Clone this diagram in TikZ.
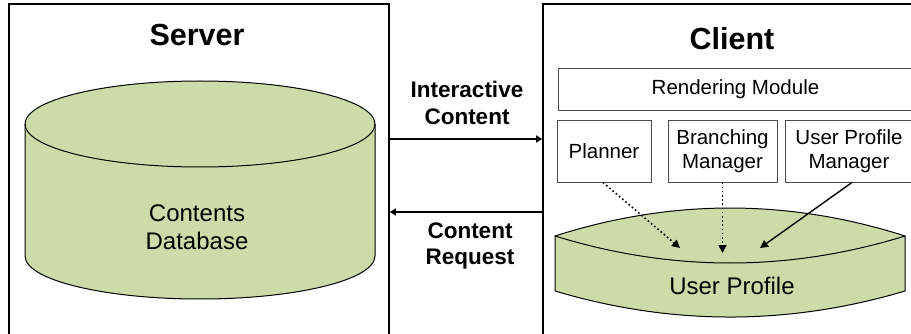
\documentclass[tikz,border=0pt]{standalone}
\usepackage{fontspec}
\setmainfont{Liberation Sans}
\usetikzlibrary{arrows.meta}
\definecolor{dbgreen}{RGB}{205,219,169}
\begin{document}
\begin{tikzpicture}[x=1pt,y=-1pt,
  panel/.style={draw=black,line width=1.6pt},
  titletext/.style={font=\fontsize{30.5}{34}\selectfont\bfseries},
  module/.style={draw=black!70,line width=0.9pt,fill=white,inner sep=0pt,align=center,
    font=\fontsize{20.5}{24}\selectfont},
  flowlbl/.style={align=center,font=\fontsize{22.5}{26.5}\selectfont\bfseries},
  dblbl/.style={align=center,font=\fontsize{24}{28}\selectfont},
  dbshape/.style={fill=dbgreen,draw=black,line width=1pt},
  flow/.style={line width=1.4pt,-{Triangle[length=6pt,width=7pt]}},
  usesdot/.style={line width=1.6pt,dash pattern=on 1.6pt off 2.6pt,-{Triangle[length=8pt,width=8pt]}},
  usessolid/.style={line width=1.4pt,-{Triangle[length=8pt,width=8pt]}}
]
\useasboundingbox (0,0) rectangle (911,334);
\clip (0,0) rectangle (911,334);

% panels
\node[panel,inner sep=0pt,minimum width=380pt,minimum height=346pt] (server) at (199,177) {};
\node[panel,inner sep=0pt,minimum width=387pt,minimum height=346pt] (client) at (736.5,177) {};
\node[titletext] (servertitle) at (197,34.7) {Server};
\node[titletext] (clienttitle) at (732,39) {Client};

% server database cylinder
\path[dbshape] (25,124) -- (25,256)
  .. controls (25,279.75) and (103.3,299) .. (200,299)
  .. controls (296.7,299) and (375,279.75) .. (375,256)
  -- (375,124)
  .. controls (375,100.25) and (296.7,81) .. (200,81)
  .. controls (103.3,81) and (25,100.25) .. (25,124) -- cycle;
\draw[line width=1pt] (25,124)
  .. controls (25,147.75) and (103.3,167) .. (200,167)
  .. controls (296.7,167) and (375,147.75) .. (375,124);
\node[dblbl] (contentsdb) at (197,227) {Contents\\Database};

% client modules
\node[module,minimum width=355pt,minimum height=42pt] (render) at (735.5,89) {Rendering Module};
\node[module,minimum width=94pt,minimum height=62pt] (planner) at (604,151) {Planner};
\node[module,minimum width=109pt,minimum height=62pt] (branch) at (722.5,151) {Branching\\Manager};
\node[module,minimum width=128pt,minimum height=62pt] (upm) at (849,151) {User Profile\\Manager};

% user profile cylinder
\path[dbshape] (555,236) -- (555,291)
  .. controls (671.7,325.7) and (788.3,325.7) .. (905,291)
  -- (905,236)
  .. controls (788.3,198.7) and (671.7,198.7) .. (555,236) -- cycle;
\draw[line width=1pt] (555,236) .. controls (671.7,272) and (788.3,272) .. (905,236);
\node[dblbl] (userprofile) at (732,286) {User Profile};

\coordinate (plannerend) at (680,248);
\coordinate (branchend) at (722.5,253);
\coordinate (upmend) at (760,248);
\draw[usesdot] ([xshift=-1pt]planner.south) -- (plannerend);
\draw[usesdot] (branch.south) -- (branchend);
\draw[usessolid] ([xshift=3pt]upm.south) -- (upmend);

% flows between server and client
\draw[flow] (server.east |- 0,139) -- (client.west |- 0,139);
\draw[flow] (client.west |- 0,212) -- (server.east |- 0,212);
\node[flowlbl] (interactive) at (467,103) {Interactive\\Content};
\node[flowlbl] (request) at (470,246) {Content\\Request};
\end{tikzpicture}
\end{document}
